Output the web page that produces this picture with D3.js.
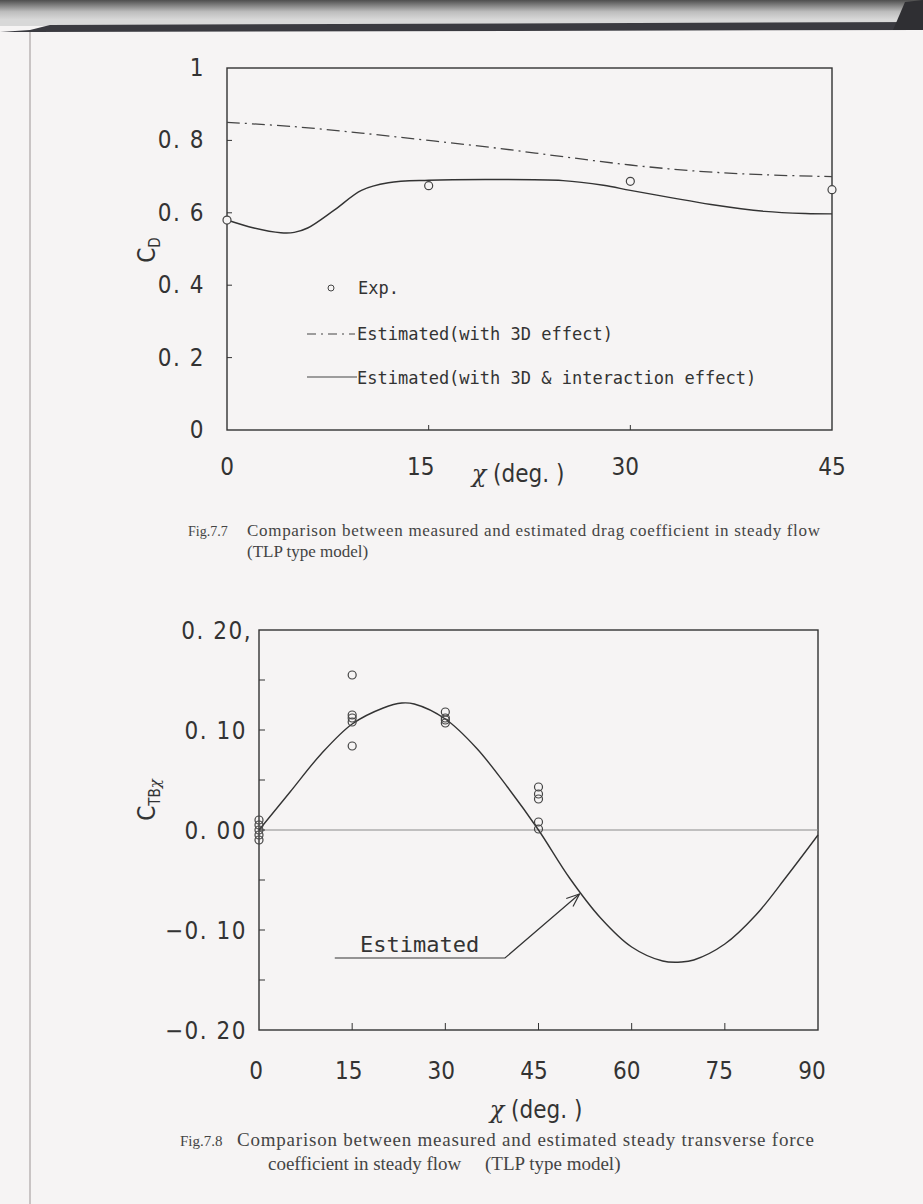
<!DOCTYPE html>
<html>
<head>
<meta charset="utf-8">
<script src="https://cdn.jsdelivr.net/npm/d3@7"></script>
<style>
  body { margin: 0; background: #f6f4f4; }
  svg { display: block; }
  .tick-label { font-family: "Liberation Sans Narrow", "DejaVu Sans Condensed", "Liberation Sans", sans-serif; font-size: 24px; fill: #333; }
  .mono { font-family: "DejaVu Sans Mono", "Liberation Mono", monospace; fill: #333; }
  .cap { font-family: "Liberation Serif", "DejaVu Serif", serif; fill: #444; }
</style>
</head>
<body>
<svg id="vis" width="923" height="1204"></svg>
<script>
// Fig.7.7 - drag coefficient
const cdExpAngle = [0, 15, 30, 45];
const cdExp = [0.580, 0.675, 0.687, 0.664];
const cd3dAngle = [0, 5, 10, 15, 20, 25, 30, 35, 40, 45];
const cd3d = [0.850, 0.838, 0.820, 0.800, 0.779, 0.755, 0.732, 0.715, 0.705, 0.700];
const cdIntAngle = [0, 2, 4, 5, 6, 8, 10, 12, 15, 20, 25, 28, 30, 33, 36, 40, 43, 45];
const cdInt = [0.580, 0.558, 0.545, 0.546, 0.558, 0.608, 0.662, 0.683, 0.690, 0.692, 0.689, 0.676, 0.662, 0.642, 0.623, 0.604, 0.598, 0.597];
const cdYTicks = [0, 0.2, 0.4, 0.6, 0.8, 1];
const cdYLabels = ["0", "0. 2", "0. 4", "0. 6", "0. 8", "1"];
const cdXTicks = [0, 15, 30, 45];

// Fig.7.8 - steady transverse force coefficient
const ctbExpAngle = [0, 0, 0, 0, 0, 15, 15, 15, 15, 15, 30, 30, 30, 30, 45, 45, 45, 45, 45];
const ctbExp = [0.010, 0.005, 0.000, -0.005, -0.010, 0.155, 0.115, 0.112, 0.108, 0.084, 0.118, 0.112, 0.110, 0.107, 0.043, 0.036, 0.031, 0.008, 0.001];
const ctbEstAngle = [0, 5, 10, 15, 20, 23, 25, 30, 35, 40, 45, 50, 55, 60, 65, 68, 70, 75, 80, 85, 90];
const ctbEst = [0.000, 0.038, 0.076, 0.106, 0.122, 0.127, 0.126, 0.111, 0.082, 0.043, 0.000, -0.048, -0.088, -0.117, -0.131, -0.132, -0.130, -0.114, -0.085, -0.046, -0.005];
const ctbYTicks = [-0.2, -0.15, -0.1, -0.05, 0, 0.05, 0.1, 0.15, 0.2];
const ctbYLabelVals = [-0.2, -0.1, 0, 0.1, 0.2];
const ctbYLabels = ["\u22120. 20", "\u22120. 10", "0. 00", "0. 10", "0. 20,"];
const ctbXTicks = [0, 15, 30, 45, 60, 75, 90];
// leader line for the "Estimated" note, in data units
const noteAngle = [12.2, 39.6, 51.6];
const noteVal = [-0.128, -0.128, -0.064];

const svg = d3.select("#vis");
const ink = "#333";

// page background details (scan edge)
const bg = svg.append("defs").append("linearGradient")
  .attr("id", "topband").attr("x1", 0).attr("y1", 0).attr("x2", 0).attr("y2", 1);
bg.append("stop").attr("offset", "0%").attr("stop-color", "#4e4e4e");
bg.append("stop").attr("offset", "45%").attr("stop-color", "#bdbdbd");
bg.append("stop").attr("offset", "75%").attr("stop-color", "#d8d8d8");
bg.append("stop").attr("offset", "100%").attr("stop-color", "#d8d8d8");
svg.append("rect").attr("x", 0).attr("y", 0).attr("width", 923).attr("height", 26).attr("fill", "url(#topband)");
svg.append("path").attr("d", "M0,32 L30,30 L50,25 L923,22 L923,30 L30,32 Z").attr("fill", "#3a3a40");
svg.append("path").attr("d", "M893,30 L923,30 L923,0 L905,2 Z").attr("fill", "#2f2f33");
svg.append("line").attr("x1", 30).attr("y1", 32).attr("x2", 30).attr("y2", 1204)
  .attr("stroke", "#c9c4c4").attr("stroke-width", 2);

// ---------- Fig.7.7 ----------
const p1 = { left: 227, right: 832, top: 68, bottom: 430 };
const x1 = d3.scaleLinear().domain([0, 45]).range([p1.left, p1.right]);
const y1 = d3.scaleLinear().domain([0, 1]).range([p1.bottom, p1.top]);
const g1 = svg.append("g");

g1.append("rect")
  .attr("x", p1.left).attr("y", p1.top)
  .attr("width", p1.right - p1.left).attr("height", p1.bottom - p1.top)
  .attr("fill", "none").attr("stroke", ink).attr("stroke-width", 1.4);

g1.selectAll(".ytk").data(cdYTicks.slice(1, -1)).enter().append("line")
  .attr("x1", p1.left).attr("x2", p1.left + 5)
  .attr("y1", d => y1(d)).attr("y2", d => y1(d))
  .attr("stroke", ink).attr("stroke-width", 1);
g1.selectAll(".xtk").data(cdXTicks.slice(1, -1)).enter().append("line")
  .attr("x1", d => x1(d)).attr("x2", d => x1(d))
  .attr("y1", p1.bottom).attr("y2", p1.bottom - 5)
  .attr("stroke", ink).attr("stroke-width", 1);

g1.selectAll(".ylab").data(cdYTicks).enter().append("text")
  .attr("class", "tick-label")
  .attr("x", 205).attr("y", d => y1(d) + 8)
  .attr("text-anchor", "end").attr("letter-spacing", 1.5)
  .text((d, i) => cdYLabels[i]);
g1.selectAll(".xlab").data(cdXTicks).enter().append("text")
  .attr("class", "tick-label")
  .attr("x", d => x1(d) - (d == 15 ? 8 : d == 30 ? 5 : 0)).attr("y", 475)
  .attr("text-anchor", "middle")
  .text(d => d);

g1.append("text").attr("class", "tick-label")
  .attr("x", 518).attr("y", 482).attr("text-anchor", "middle")
  .html('<tspan font-style="italic" font-family="DejaVu Serif">χ</tspan> (deg. )');
g1.append("text").attr("class", "tick-label")
  .attr("transform", "translate(155,250) rotate(-90)")
  .attr("text-anchor", "middle")
  .html('C<tspan font-size="15" dy="5">D</tspan>');

const line1 = d3.line().curve(d3.curveCatmullRom);
g1.append("path")
  .attr("d", line1(cd3dAngle.map((a, i) => [x1(a), y1(cd3d[i])])))
  .attr("fill", "none").attr("stroke", "#444").attr("stroke-width", 1.3)
  .attr("stroke-dasharray", "13,5,2,5");
g1.append("path")
  .attr("d", line1(cdIntAngle.map((a, i) => [x1(a), y1(cdInt[i])])))
  .attr("fill", "none").attr("stroke", ink).attr("stroke-width", 1.4);
g1.selectAll(".exp").data(cdExpAngle).enter().append("circle")
  .attr("cx", d => x1(d)).attr("cy", (d, i) => y1(cdExp[i]))
  .attr("r", 4).attr("fill", "#f6f4f4").attr("stroke", "#444").attr("stroke-width", 1.2);

// legend
const lg = g1.append("g").attr("class", "mono").attr("font-size", 17);
lg.append("circle").attr("cx", 331).attr("cy", 288).attr("r", 3)
  .attr("fill", "none").attr("stroke", "#444").attr("stroke-width", 1);
lg.append("text").attr("x", 358).attr("y", 294).text("Exp.");
lg.append("line").attr("x1", 307).attr("x2", 355).attr("y1", 334).attr("y2", 334)
  .attr("stroke", "#444").attr("stroke-width", 1.2).attr("stroke-dasharray", "9,5,2,5");
lg.append("text").attr("x", 357).attr("y", 340).text("Estimated(with 3D effect)");
lg.append("line").attr("x1", 307).attr("x2", 357).attr("y1", 377).attr("y2", 377)
  .attr("stroke", "#444").attr("stroke-width", 1.2);
lg.append("text").attr("x", 357).attr("y", 384).text("Estimated(with 3D & interaction effect)");

// caption
svg.append("text").attr("class", "cap").attr("font-size", 14)
  .attr("x", 188).attr("y", 536).text("Fig.7.7");
svg.append("text").attr("class", "cap").attr("font-size", 17)
  .attr("x", 247).attr("y", 536).attr("textLength", 573)
  .text("Comparison between measured and estimated drag coefficient in steady flow");
svg.append("text").attr("class", "cap").attr("font-size", 17)
  .attr("x", 247).attr("y", 557).text("(TLP type model)");

// ---------- Fig.7.8 ----------
const p2 = { left: 259, right: 818, top: 630, bottom: 1030 };
const x2 = d3.scaleLinear().domain([0, 90]).range([p2.left, p2.right]);
const y2 = d3.scaleLinear().domain([-0.2, 0.2]).range([p2.bottom, p2.top]);
const g2 = svg.append("g");

g2.append("rect")
  .attr("x", p2.left).attr("y", p2.top)
  .attr("width", p2.right - p2.left).attr("height", p2.bottom - p2.top)
  .attr("fill", "none").attr("stroke", ink).attr("stroke-width", 1.4);
g2.append("line")
  .attr("x1", p2.left).attr("x2", p2.right).attr("y1", y2(0)).attr("y2", y2(0))
  .attr("stroke", "#8a8a8a").attr("stroke-width", 1);

g2.selectAll(".ytk").data(ctbYTicks.slice(1, -1)).enter().append("line")
  .attr("x1", p2.left).attr("x2", p2.left + 6)
  .attr("y1", d => y2(d)).attr("y2", d => y2(d))
  .attr("stroke", ink).attr("stroke-width", 1);
g2.selectAll(".xtk").data(ctbXTicks.slice(1, -1)).enter().append("line")
  .attr("x1", d => x2(d)).attr("x2", d => x2(d))
  .attr("y1", p2.bottom).attr("y2", p2.bottom - 7)
  .attr("stroke", ink).attr("stroke-width", 1);

g2.selectAll(".ylab").data(ctbYLabelVals).enter().append("text")
  .attr("class", "tick-label")
  .attr("x", (d, i) => i == 4 ? 252 : 247).attr("y", d => y2(d) + 9)
  .attr("text-anchor", "end").attr("letter-spacing", 1.5)
  .text((d, i) => ctbYLabels[i]);
g2.selectAll(".xlab").data(ctbXTicks).enter().append("text")
  .attr("class", "tick-label")
  .attr("x", d => x2(d) - 3 - d / 30).attr("y", 1079)
  .attr("text-anchor", "middle")
  .text(d => d);

g2.append("text").attr("class", "tick-label")
  .attr("x", 536).attr("y", 1118).attr("text-anchor", "middle")
  .html('<tspan font-style="italic" font-family="DejaVu Serif">χ</tspan> (deg. )');
g2.append("text").attr("class", "tick-label")
  .attr("transform", "translate(155,800) rotate(-90)")
  .attr("text-anchor", "middle")
  .html('C<tspan font-size="15" dy="5">TB</tspan><tspan font-size="15" font-style="italic" font-family="DejaVu Serif">χ</tspan>');

g2.append("path")
  .attr("d", line1(ctbEstAngle.map((a, i) => [x2(a), y2(ctbEst[i])])))
  .attr("fill", "none").attr("stroke", ink).attr("stroke-width", 1.4);
g2.selectAll(".exp").data(ctbExpAngle).enter().append("circle")
  .attr("cx", d => x2(d)).attr("cy", (d, i) => y2(ctbExp[i]))
  .attr("r", 4).attr("fill", "none").attr("stroke", "#444").attr("stroke-width", 1.2);

// "Estimated" note with arrow
const notePts = noteAngle.map((a, i) => [x2(a), y2(noteVal[i])]);
g2.append("path").attr("d", d3.line()(notePts))
  .attr("fill", "none").attr("stroke", ink).attr("stroke-width", 1.2);
const tip = notePts[2], prev = notePts[1];
const ang = Math.atan2(tip[1] - prev[1], tip[0] - prev[0]);
const hl = 14, spread = 0.38;
g2.append("path")
  .attr("d", d3.line()([
    [tip[0] - hl * Math.cos(ang - spread), tip[1] - hl * Math.sin(ang - spread)],
    tip,
    [tip[0] - hl * Math.cos(ang + spread), tip[1] - hl * Math.sin(ang + spread)]
  ]))
  .attr("fill", "none").attr("stroke", ink).attr("stroke-width", 1.2);
g2.append("text").attr("class", "mono").attr("font-size", 22)
  .attr("x", 360).attr("y", 952).text("Estimated");

// caption
svg.append("text").attr("class", "cap").attr("font-size", 15)
  .attr("x", 180).attr("y", 1146).text("Fig.7.8");
svg.append("text").attr("class", "cap").attr("font-size", 19)
  .attr("x", 237).attr("y", 1146).attr("textLength", 577)
  .text("Comparison between measured and estimated steady transverse force");
svg.append("text").attr("class", "cap").attr("font-size", 19)
  .attr("x", 268).attr("y", 1170)
  .text("coefficient in steady flow\u2003 (TLP type model)");
</script>
</body>
</html>
